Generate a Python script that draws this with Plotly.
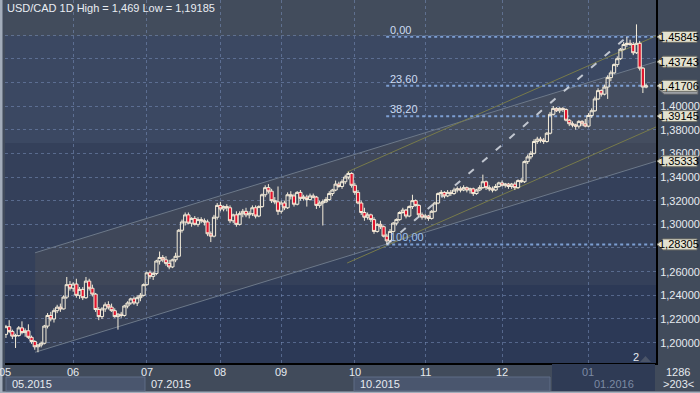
import plotly.graph_objects as go

# ---------------- data ----------------
title_text = "USD/CAD 1D High = 1,469 Low = 1,19185"

opens = [
1.2070,1.2135,1.2095,1.2055,1.2060,1.2125,1.2085,1.2100,1.2045,1.2010,
1.1965,1.1980,1.1995,1.2140,1.2230,1.2200,1.2270,1.2300,1.2285,1.2385,
1.2490,1.2460,1.2495,1.2400,1.2450,1.2380,1.2520,1.2460,1.2410,1.2280,
1.2220,1.2285,1.2320,1.2300,1.2270,1.2220,1.2240,1.2230,1.2310,1.2335,
1.2370,1.2335,1.2380,1.2400,1.2490,1.2590,1.2560,1.2585,1.2690,1.2720,
1.2700,1.2670,1.2640,1.2700,1.2730,1.2950,1.3020,1.3080,1.3010,1.3050,
1.3000,1.3040,1.3030,1.3020,1.2920,1.2900,1.3060,1.3160,1.3130,1.3150,
1.3140,1.3030,1.3080,1.3000,1.3090,1.3110,1.3080,1.3090,1.3140,1.3070,
1.3150,1.3250,1.3310,1.3280,1.3200,1.3190,1.3110,1.3180,1.3140,1.3250,
1.3240,1.3170,1.3270,1.3220,1.3230,1.3210,1.3240,1.3230,1.3160,1.3180,
1.3190,1.3210,1.3260,1.3290,1.3340,1.3320,1.3360,1.3400,1.3430,1.3330,
1.3270,1.3180,1.3100,1.3060,1.3080,1.3040,1.2940,1.3000,1.2980,1.2900,
1.2860,1.2940,1.3010,1.3040,1.3100,1.3120,1.3070,1.3150,1.3200,1.3160,
1.3080,1.3060,1.3070,1.3050,1.3110,1.3180,1.3260,1.3270,1.3240,1.3270,
1.3260,1.3290,1.3300,1.3290,1.3310,1.3290,1.3300,1.3260,1.3290,1.3310,
1.3360,1.3310,1.3300,1.3290,1.3320,1.3350,1.3330,1.3340,1.3320,1.3340,
1.3310,1.3370,1.3360,1.3530,1.3570,1.3600,1.3700,1.3720,1.3710,1.3700,
1.3770,1.3930,1.3980,1.3960,1.3980,1.3970,1.3880,1.3850,1.3840,1.3830,
1.3870,1.3850,1.3830,1.3920,1.3960,1.4060,1.4130,1.4100,1.4160,1.4240,
1.4280,1.4350,1.4400,1.4480,1.4520,1.4530,1.4520,1.4450,1.4530,1.4320,
1.4160]

highs = [
1.2150,1.2190,1.2110,1.2075,1.2140,1.2180,1.2120,1.2155,1.2060,1.2020,
1.1990,1.2010,1.2150,1.2250,1.2260,1.2290,1.2320,1.2330,1.2400,1.2555,
1.2520,1.2510,1.2540,1.2470,1.2470,1.2555,1.2540,1.2490,1.2420,1.2300,
1.2300,1.2340,1.2350,1.2330,1.2290,1.2250,1.2260,1.2320,1.2350,1.2380,
1.2390,1.2400,1.2420,1.2500,1.2600,1.2610,1.2600,1.2700,1.2770,1.2740,
1.2730,1.2700,1.2710,1.2760,1.2960,1.3040,1.3100,1.3100,1.3060,1.3070,
1.3060,1.3060,1.3050,1.3040,1.2940,1.3080,1.3180,1.3190,1.3160,1.3170,
1.3160,1.3090,1.3110,1.3110,1.3130,1.3140,1.3110,1.3160,1.3160,1.3160,
1.3260,1.3330,1.3340,1.3300,1.3230,1.3320,1.3200,1.3200,1.3270,1.3280,
1.3260,1.3280,1.3290,1.3250,1.3250,1.3260,1.3260,1.3240,1.3200,1.3210,
1.3230,1.3280,1.3300,1.3370,1.3360,1.3380,1.3420,1.3445,1.3440,1.3350,
1.3290,1.3200,1.3140,1.3100,1.3090,1.3060,1.3010,1.3030,1.2990,1.2920,
1.2960,1.3020,1.3050,1.3110,1.3140,1.3130,1.3160,1.3250,1.3210,1.3170,
1.3100,1.3090,1.3080,1.3120,1.3190,1.3270,1.3290,1.3280,1.3290,1.3290,
1.3310,1.3320,1.3320,1.3330,1.3320,1.3310,1.3310,1.3300,1.3330,1.3420,
1.3370,1.3330,1.3320,1.3340,1.3360,1.3370,1.3350,1.3350,1.3350,1.3360,
1.3380,1.3390,1.3540,1.3590,1.3620,1.3720,1.3740,1.3740,1.3730,1.3780,
1.3950,1.4000,1.3990,1.3990,1.3990,1.3980,1.3890,1.3870,1.3850,1.3880,
1.3880,1.3890,1.3940,1.3980,1.4080,1.4150,1.4140,1.4180,1.4260,1.4300,
1.4360,1.4420,1.4490,1.4540,1.45845,1.4560,1.4540,1.4690,1.4550,1.4330,
1.4190]

lows = [
1.2040,1.2080,1.2030,1.1955,1.2050,1.2070,1.2050,1.2030,1.1990,1.1940,
1.19185,1.1960,1.1985,1.2120,1.2180,1.2170,1.2250,1.2260,1.2280,1.2370,
1.2440,1.2430,1.2380,1.2370,1.2360,1.2370,1.2440,1.2390,1.2260,1.2190,
1.2200,1.2260,1.2280,1.2260,1.2210,1.2110,1.2210,1.2220,1.2290,1.2320,
1.2320,1.2310,1.2350,1.2390,1.2480,1.2540,1.2530,1.2570,1.2660,1.2680,
1.2650,1.2620,1.2630,1.2680,1.2720,1.2930,1.2990,1.3000,1.2980,1.2990,
1.2980,1.3010,1.2990,1.2900,1.2850,1.2890,1.3040,1.3110,1.3110,1.3110,
1.3010,1.3010,1.2980,1.2990,1.3060,1.3060,1.3050,1.3070,1.3050,1.3060,
1.3140,1.3230,1.3260,1.3180,1.3170,1.3080,1.3090,1.3120,1.3130,1.3210,
1.3150,1.3160,1.3200,1.3200,1.3150,1.3200,1.3220,1.3130,1.3140,1.2990,
1.3180,1.3200,1.3240,1.3280,1.3310,1.3300,1.3340,1.3380,1.3310,1.3250,
1.3170,1.3080,1.3030,1.3040,1.3020,1.2920,1.2930,1.2960,1.2890,1.28305,
1.2850,1.2930,1.2990,1.3030,1.3090,1.3050,1.3060,1.3130,1.3150,1.3060,
1.3040,1.3040,1.3030,1.3040,1.3100,1.3170,1.3240,1.3220,1.3230,1.3240,
1.3250,1.3270,1.3270,1.3280,1.3270,1.3260,1.3240,1.3250,1.3280,1.3300,
1.3290,1.3280,1.3270,1.3280,1.3310,1.3320,1.3310,1.3300,1.3300,1.3290,
1.3300,1.3350,1.3350,1.3510,1.3550,1.3590,1.3680,1.3690,1.3680,1.3690,
1.3760,1.3920,1.3950,1.3940,1.3950,1.3870,1.3830,1.3820,1.3800,1.3810,
1.3830,1.3820,1.3820,1.3900,1.3950,1.4050,1.4080,1.4090,1.4060,1.4210,
1.4270,1.4330,1.4390,1.4470,1.4500,1.4510,1.4430,1.4440,1.4300,1.4110,
1.4150]

closes = [
1.2135,1.2095,1.2055,1.2060,1.2125,1.2085,1.2100,1.2045,1.2010,1.1965,
1.1980,1.1995,1.2140,1.2230,1.2200,1.2270,1.2300,1.2285,1.2385,1.2490,
1.2460,1.2495,1.2400,1.2450,1.2380,1.2520,1.2460,1.2410,1.2280,1.2220,
1.2285,1.2320,1.2300,1.2270,1.2220,1.2240,1.2230,1.2310,1.2335,1.2370,
1.2335,1.2380,1.2400,1.2490,1.2590,1.2560,1.2585,1.2690,1.2720,1.2700,
1.2670,1.2640,1.2700,1.2730,1.2950,1.3020,1.3080,1.3010,1.3050,1.3000,
1.3040,1.3030,1.3020,1.2920,1.2900,1.3060,1.3160,1.3130,1.3150,1.3140,
1.3030,1.3080,1.3000,1.3090,1.3110,1.3080,1.3090,1.3140,1.3070,1.3150,
1.3250,1.3310,1.3280,1.3200,1.3190,1.3110,1.3180,1.3140,1.3250,1.3240,
1.3170,1.3270,1.3220,1.3230,1.3210,1.3240,1.3230,1.3160,1.3180,1.3190,
1.3210,1.3260,1.3290,1.3340,1.3320,1.3360,1.3400,1.3430,1.3330,1.3270,
1.3180,1.3100,1.3060,1.3080,1.3040,1.2940,1.3000,1.2980,1.2900,1.2860,
1.2940,1.3010,1.3040,1.3100,1.3120,1.3070,1.3150,1.3200,1.3160,1.3080,
1.3060,1.3070,1.3050,1.3110,1.3180,1.3260,1.3270,1.3240,1.3270,1.3260,
1.3290,1.3300,1.3290,1.3310,1.3290,1.3300,1.3260,1.3290,1.3310,1.3360,
1.3310,1.3300,1.3290,1.3320,1.3350,1.3330,1.3340,1.3320,1.3340,1.3310,
1.3370,1.3360,1.3530,1.3570,1.3600,1.3700,1.3720,1.3710,1.3700,1.3770,
1.3930,1.3980,1.3960,1.3980,1.3970,1.3880,1.3850,1.3840,1.3830,1.3870,
1.3850,1.3830,1.3920,1.3960,1.4060,1.4130,1.4100,1.4160,1.4240,1.4280,
1.4350,1.4400,1.4480,1.4520,1.4530,1.4520,1.4450,1.4530,1.4320,1.4160,
1.41706]

bar_index = list(range(len(closes)))

month_ticks = [21, 44, 67, 86, 109, 131, 155, 182]
month_labels = ["06", "07", "08", "09", "10", "11", "12", "01"]

price_ticks = [1.20, 1.22, 1.24, 1.26, 1.28, 1.30, 1.32, 1.34, 1.36, 1.38, 1.40, 1.42, 1.44, 1.46]
# labels that sit under a price tag are hidden, as in the reference
price_tick_text = ["1,20000", "1,22000", "1,24000", "1,26000", "", "1,30000", "1,32000",
                   "1,34000", "1,36000", "1,38000", "1,40000", "", "", ""]

fibo_levels = [1.45845, 1.41706, 1.39145, 1.28305]
fibo_names = ["0,00", "23,60", "38,20", "100,00"]
fibo_trend_x = [119, 194]
fibo_trend_y = [1.28305, 1.45845]

tag_prices = [1.45845, 1.43743, 1.41706, 1.39145, 1.35333, 1.28305]
tag_texts = ["1,45845", "1,43743", "1,41706", "1,39145", "1,35333", "1,28305"]

gray_channel_x = [9.1, 203.1]
gray_channel_upper = [1.27595, 1.43743]
gray_channel_lower = [1.19185, 1.35333]
olive_channel_x = [106.6, 203.1]
olive_channel_upper = [1.3442, 1.4592]
olive_channel_lower = [1.2673, 1.3823]

# ---------------- geometry helpers ----------------
Y0, Y1 = 1.1828, 1.4896
X0, X1 = -0.3, 203.1
ML, MR, MT, MB = 5, 44, 0, 30
W, H = 700, 393
PW, PH = W - ML - MR, H - MT - MB


def pxx(px):
    return (px - ML) / PW


def pxy(py):
    return (MT + PH - py) / PH


def pry(p):
    return (p - Y0) / (Y1 - Y0)


FONT = "Liberation Sans, Arial"

fig = go.Figure()

fig.add_trace(go.Candlestick(
    x=bar_index, open=opens, high=highs, low=lows, close=closes,
    increasing=dict(line=dict(color="#f5edda", width=1), fillcolor="rgba(0,0,0,0)"),
    decreasing=dict(line=dict(color="#f5edda", width=1), fillcolor="#e2142e"),
    whiskerwidth=0, hoverinfo="skip", showlegend=False,
))

shapes = []
# background bands
bands = [(1.4592, Y1 + 0.01, "#424c5c"), (1.3687, 1.4592, "#3b4862"),
         (1.2487, 1.3687, "#34405a"), (Y0 - 0.01, 1.2487, "#2c3956")]
for lo, hi, col in bands:
    shapes.append(dict(type="rect", xref="paper", yref="y", x0=0, x1=1, y0=lo, y1=hi,
                       fillcolor=col, line=dict(width=0), layer="below"))
# gray channel fill
gx, gu, gl = gray_channel_x, gray_channel_upper, gray_channel_lower
shapes.append(dict(type="path", xref="x", yref="y",
                   path=f"M {gx[0]},{gu[0]} L {gx[1]},{gu[1]} L {gx[1]},{gl[1]} L {gx[0]},{gl[0]} Z",
                   fillcolor="rgba(88,88,88,0.30)", line=dict(width=0), layer="below"))
# channel lines
for yy in (gu, gl):
    shapes.append(dict(type="line", xref="x", yref="y", x0=gx[0], x1=gx[1], y0=yy[0], y1=yy[1],
                       line=dict(color="#6c7889", width=1), layer="between"))
ox = olive_channel_x
for yy in (olive_channel_upper, olive_channel_lower):
    shapes.append(dict(type="line", xref="x", yref="y", x0=ox[0], x1=ox[1], y0=yy[0], y1=yy[1],
                       line=dict(color="#777a4a", width=1), layer="between"))
# fibo levels
for lv in fibo_levels:
    shapes.append(dict(type="line", xref="x", yref="y", x0=118.8, x1=X1, y0=lv, y1=lv,
                       line=dict(color="#7d9fd3", width=2, dash="dot"), layer="between"))
# fibo trend
shapes.append(dict(type="line", xref="x", yref="y", x0=fibo_trend_x[0], x1=fibo_trend_x[1],
                   y0=fibo_trend_y[0], y1=fibo_trend_y[1],
                   line=dict(color="rgba(215,220,228,0.85)", width=2, dash="7px,11px"), layer="between"))

# left window border & bottom border
shapes.append(dict(type="rect", xref="paper", yref="paper", x0=pxx(0), x1=pxx(2.5), y0=pxy(H), y1=1,
                   fillcolor="#a3adbb", line=dict(width=0), layer="above"))
shapes.append(dict(type="rect", xref="paper", yref="paper", x0=pxx(0), x1=pxx(W), y0=pxy(H), y1=pxy(H - 1.5),
                   fillcolor="#a3adbb", line=dict(width=0), layer="above"))
# x-axis lower row boxes
shapes.append(dict(type="rect", xref="paper", yref="paper", x0=pxx(6), x1=pxx(145), y0=pxy(391), y1=pxy(377),
                   fillcolor="#4a566e", line=dict(color="#5f6c86", width=1), layer="above"))
shapes.append(dict(type="rect", xref="paper", yref="paper", x0=pxx(354), x1=pxx(550), y0=pxy(391), y1=pxy(377),
                   fillcolor="#4a566e", line=dict(color="#5f6c86", width=1), layer="above"))
shapes.append(dict(type="rect", xref="paper", yref="paper", x0=pxx(552), x1=pxx(655), y0=pxy(391), y1=pxy(364),
                   fillcolor="#2f3b55", line=dict(width=0), layer="above"))
# shift marker triangle
shapes.append(dict(type="path", xref="paper", yref="paper",
                   path=f"M {pxx(640)},{pxy(362)} L {pxx(651)},{pxy(362)} L {pxx(645.5)},{pxy(356)} Z",
                   fillcolor="#4b5569", line=dict(width=0), layer="above"))


# price tags on the right axis
def tag_path(p, dx=0, dy=0, w=40, h=11):
    yc = pry(p) + dy / PH
    hh = h / 2 / PH
    xt = pxx(657 + dx)
    xb = pxx(663 + dx)
    xr = pxx(657 + w + dx)
    return f"M {xt},{yc} L {xb},{yc + hh} L {xr},{yc + hh} L {xr},{yc - hh} L {xb},{yc - hh} Z"


shapes.append(dict(type="path", xref="paper", yref="paper", path=tag_path(1.41706, dx=1, dy=-3),
                   fillcolor="#9c9fa4", line=dict(color="#5a5d62", width=1), layer="above"))
for p in tag_prices:
    shapes.append(dict(type="path", xref="paper", yref="paper", path=tag_path(p),
                       fillcolor="#e3e1cf", line=dict(color="#6d6d66", width=1), layer="above"))

annotations = []
annotations.append(dict(text=title_text, xref="paper", yref="paper", x=pxx(5), y=pxy(8),
                        xanchor="left", yanchor="middle", showarrow=False,
                        font=dict(family=FONT, size=11, color="#e9edf3")))
for lv, nm in zip(fibo_levels, fibo_names):
    col = "#9ec0ef" if nm == "100,00" else "#cddcf2"
    annotations.append(dict(text=nm, xref="x", yref="y", x=119.5, y=lv, xanchor="left", yanchor="bottom",
                            yshift=-1, showarrow=False,
                            font=dict(family=FONT, size=11, color=col)))
for p, t in zip(tag_prices, tag_texts):
    annotations.append(dict(text=t, xref="paper", yref="paper", x=pxx(679), y=pry(p),
                            xanchor="center", yanchor="middle", showarrow=False,
                            font=dict(family=FONT, size=11, color="#000000")))
# month labels row 1
annotations.append(dict(text="05", xref="x", yref="paper", x=X0, y=pxy(372), xanchor="center",
                        yanchor="middle", showarrow=False,
                        font=dict(family=FONT, size=11, color="#e6eaf0")))
for mt, ml in zip(month_ticks, month_labels):
    col = "#7c8aa3" if ml == "01" else "#e6eaf0"
    annotations.append(dict(text=ml, xref="x", yref="paper", x=mt, y=pxy(372), xanchor="center",
                            yanchor="middle", showarrow=False,
                            font=dict(family=FONT, size=11, color=col)))
# row 2
row2 = [("05.2015", 10, "#e6eaf0"), ("07.2015", 149, "#e6eaf0"), ("10.2015", 358, "#e6eaf0"),
        ("01.2016", 592, "#7c8aa3")]
for t, px, col in row2:
    annotations.append(dict(text=t, xref="paper", yref="paper", x=pxx(px), y=pxy(384), xanchor="left",
                            yanchor="middle", showarrow=False,
                            font=dict(family=FONT, size=11, color=col)))
annotations.append(dict(text="1286", xref="paper", yref="paper", x=pxx(678), y=pxy(372), xanchor="center",
                        yanchor="middle", showarrow=False,
                        font=dict(family=FONT, size=11, color="#e6eaf0")))
annotations.append(dict(text=">203<", xref="paper", yref="paper", x=pxx(678), y=pxy(384), xanchor="center",
                        yanchor="middle", showarrow=False,
                        font=dict(family=FONT, size=11, color="#e6eaf0")))
annotations.append(dict(text="2", xref="paper", yref="paper", x=pxx(636), y=pxy(357), xanchor="center",
                        yanchor="middle", showarrow=False,
                        font=dict(family=FONT, size=11, color="#e6eaf0")))

grid_col = "rgba(120,142,185,0.55)"
fig.update_layout(
    width=W, height=H,
    margin=dict(l=ML, r=MR, t=MT, b=MB, pad=0),
    paper_bgcolor="#414b5b",
    plot_bgcolor="#34405a",
    boxgap=0.0, boxgroupgap=0.0,
    shapes=shapes, annotations=annotations,
    showlegend=False,
    xaxis=dict(range=[X0, X1], rangeslider=dict(visible=False), tickvals=month_ticks,
               showticklabels=False, ticks="", showgrid=True, gridcolor=grid_col, gridwidth=1,
               griddash="3px,3px", zeroline=False, showline=True, linecolor="#000000", linewidth=2,
               fixedrange=True),
    yaxis=dict(range=[Y0, Y1], side="right", tickvals=price_ticks, ticktext=price_tick_text,
               ticks="", showgrid=True, gridcolor=grid_col, gridwidth=1, griddash="3px,3px",
               zeroline=False, showline=True, linecolor="#000000", linewidth=2,
               tickfont=dict(family=FONT, size=11, color="#e6eaf0"),
               fixedrange=True),
)

fig.write_html(
    "out.html",
    config={"displayModeBar": False, "staticPlot": True},
    post_script="document.body.style.margin='0';document.body.style.overflow='hidden';",
)
